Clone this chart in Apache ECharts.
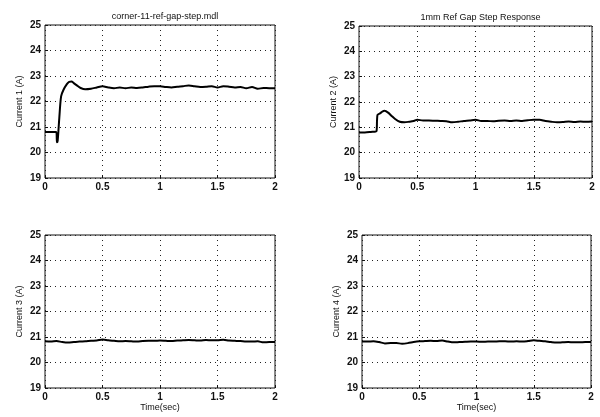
<!DOCTYPE html>
<html>
<head>
<meta charset="utf-8">
<script src="https://cdn.jsdelivr.net/npm/echarts@6/dist/echarts.min.js"></script>
<style>
  html, body { margin: 0; padding: 0; background: #fff; }
  #chart { width: 600px; height: 417px; }
</style>
</head>
<body>
<div id="chart"></div>
<script>
// Time samples (s) and measured coil currents (A) for the 1 mm reference gap step
const time1 = [0, 0.05, 0.098, 0.104, 0.11, 0.125, 0.14, 0.16, 0.19, 0.21, 0.23, 0.25, 0.28, 0.31, 0.35, 0.4, 0.45, 0.5, 0.55, 0.6, 0.65, 0.7, 0.75, 0.8, 0.85, 0.9, 0.95, 1.0, 1.05, 1.1, 1.15, 1.2, 1.25, 1.3, 1.35, 1.4, 1.45, 1.5, 1.55, 1.6, 1.65, 1.7, 1.75, 1.8, 1.85, 1.9, 1.95, 2.0];
const current1 = [20.8, 20.8, 20.8, 20.4, 20.45, 21.4, 22.2, 22.45, 22.68, 22.77, 22.78, 22.72, 22.62, 22.53, 22.48, 22.5, 22.55, 22.6, 22.55, 22.52, 22.55, 22.52, 22.55, 22.53, 22.55, 22.58, 22.6, 22.6, 22.57, 22.55, 22.58, 22.6, 22.63, 22.6, 22.57, 22.58, 22.6, 22.55, 22.6, 22.58, 22.55, 22.57, 22.52, 22.57, 22.5, 22.53, 22.52, 22.52];

const time2 = [0, 0.05, 0.1, 0.15, 0.155, 0.16, 0.18, 0.2, 0.22, 0.25, 0.28, 0.31, 0.35, 0.39, 0.43, 0.47, 0.5, 0.55, 0.6, 0.65, 0.7, 0.75, 0.8, 0.85, 0.9, 0.95, 1.0, 1.05, 1.1, 1.15, 1.2, 1.25, 1.3, 1.35, 1.4, 1.45, 1.5, 1.55, 1.6, 1.65, 1.7, 1.75, 1.8, 1.85, 1.9, 1.95, 2.0];
const current2 = [20.8, 20.8, 20.82, 20.85, 21.3, 21.5, 21.55, 21.62, 21.65, 21.58, 21.45, 21.33, 21.22, 21.2, 21.22, 21.25, 21.3, 21.27, 21.27, 21.26, 21.25, 21.24, 21.2, 21.22, 21.25, 21.27, 21.3, 21.25, 21.25, 21.24, 21.26, 21.27, 21.25, 21.27, 21.25, 21.28, 21.3, 21.3, 21.25, 21.22, 21.2, 21.21, 21.23, 21.21, 21.23, 21.22, 21.23];

const time3 = [0, 0.05, 0.1, 0.15, 0.2, 0.25, 0.3, 0.35, 0.4, 0.45, 0.5, 0.55, 0.6, 0.65, 0.7, 0.75, 0.8, 0.85, 0.9, 0.95, 1.0, 1.05, 1.1, 1.15, 1.2, 1.25, 1.3, 1.35, 1.4, 1.45, 1.5, 1.55, 1.6, 1.65, 1.7, 1.75, 1.8, 1.85, 1.9, 1.95, 2.0];
const current3 = [20.83, 20.82, 20.84, 20.8, 20.78, 20.8, 20.82, 20.83, 20.85, 20.86, 20.9, 20.87, 20.85, 20.83, 20.84, 20.83, 20.82, 20.84, 20.85, 20.85, 20.86, 20.85, 20.84, 20.86, 20.87, 20.88, 20.87, 20.86, 20.88, 20.87, 20.87, 20.89, 20.86, 20.85, 20.84, 20.82, 20.82, 20.83, 20.79, 20.8, 20.8];

const time4 = [0, 0.05, 0.1, 0.15, 0.2, 0.25, 0.3, 0.35, 0.4, 0.45, 0.5, 0.55, 0.6, 0.65, 0.7, 0.75, 0.8, 0.85, 0.9, 0.95, 1.0, 1.05, 1.1, 1.15, 1.2, 1.25, 1.3, 1.35, 1.4, 1.45, 1.5, 1.55, 1.6, 1.65, 1.7, 1.75, 1.8, 1.85, 1.9, 1.95, 2.0];
const current4 = [20.82, 20.82, 20.83, 20.8, 20.75, 20.76, 20.76, 20.74, 20.76, 20.8, 20.83, 20.84, 20.85, 20.84, 20.86, 20.82, 20.79, 20.8, 20.81, 20.82, 20.82, 20.81, 20.82, 20.82, 20.83, 20.83, 20.82, 20.83, 20.82, 20.84, 20.87, 20.85, 20.83, 20.8, 20.78, 20.79, 20.8, 20.79, 20.79, 20.8, 20.8];

const panelTitles = ['corner-11-ref-gap-step.mdl', '1mm Ref Gap Step Response', '', ''];
const yNames = ['Current 1 (A)', 'Current 2 (A)', 'Current 3 (A)', 'Current 4 (A)'];
const xName = 'Time(sec)';
const yTicks = { min: 19, max: 25, interval: 1 };
const xTicks = { min: 0, max: 2, interval: 0.5 };

const FONT = '"Liberation Sans", Arial, sans-serif';

const grids = [
  { left: 45, top: 25, width: 230, height: 153 },
  { left: 359, top: 26, width: 233, height: 152 },
  { left: 45, top: 235, width: 230, height: 153 },
  { left: 362, top: 235, width: 229, height: 153 }
];

const seriesData = [
  time1.map((t, i) => [t, current1[i]]),
  time2.map((t, i) => [t, current2[i]]),
  time3.map((t, i) => [t, current3[i]]),
  time4.map((t, i) => [t, current4[i]])
];

const dotted = { color: '#222', width: 1, type: [1, 4] };
const tickLabel = { color: '#111', fontFamily: FONT, fontSize: 10, fontWeight: 'bold' };

const option = {
  backgroundColor: '#fff',
  animation: false,
  title: grids.map((g, i) => ({
    text: panelTitles[i],
    left: g.left + g.width / 2,
    top: g.top - 18,
    textAlign: 'center',
    textStyle: { fontFamily: FONT, fontSize: 9, fontWeight: 'normal', color: '#111' }
  })),
  grid: grids.map(g => Object.assign({ show: true, borderColor: '#111', borderWidth: 1, backgroundColor: 'transparent' }, g)),
  xAxis: grids.map((g, i) => ({
    type: 'value',
    gridIndex: i,
    min: xTicks.min, max: xTicks.max, interval: xTicks.interval,
    name: i >= 2 ? xName : '',
    nameLocation: 'middle',
    nameGap: 14,
    nameTextStyle: { fontFamily: FONT, fontSize: 9, color: '#111' },
    axisLine: { show: false },
    axisTick: { show: true, inside: true, length: 3, lineStyle: { color: '#111' } },
    axisLabel: Object.assign({ margin: 4, formatter: v => String(v) }, tickLabel),
    splitLine: { show: true, lineStyle: dotted }
  })),
  yAxis: grids.map((g, i) => ({
    type: 'value',
    gridIndex: i,
    min: yTicks.min, max: yTicks.max, interval: yTicks.interval,
    name: yNames[i],
    nameLocation: 'middle',
    nameGap: 21,
    nameRotate: 90,
    nameTextStyle: { fontFamily: FONT, fontSize: 9, color: '#111' },
    axisLine: { show: false },
    axisTick: { show: true, inside: true, length: 3, lineStyle: { color: '#111' } },
    axisLabel: Object.assign({ margin: 4 }, tickLabel),
    splitLine: { show: true, lineStyle: dotted }
  })),
  series: seriesData.map((d, i) => ({
    type: 'line',
    xAxisIndex: i,
    yAxisIndex: i,
    data: d,
    showSymbol: false,
    smooth: 0.3,
    lineStyle: { color: '#000', width: 2 }
  }))
};

echarts.init(document.getElementById('chart'), null, { renderer: 'canvas' }).setOption(option);
</script>
</body>
</html>
